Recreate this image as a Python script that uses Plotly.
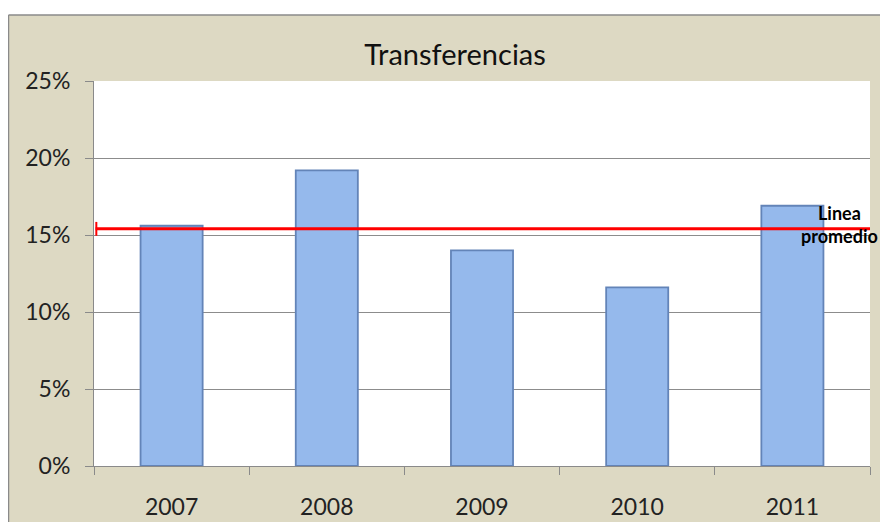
import plotly.graph_objects as go

years = ["2007", "2008", "2009", "2010", "2011"]
transferencias = [15.6, 19.2, 14.0, 11.6, 16.9]
promedio = 15.4
y_ticks = [0, 5, 10, 15, 20, 25]
y_labels = ["0%", "5%", "10%", "15%", "20%", "25%"]

# the page shows the figure with an 8px offset; positions below are figure coordinates
W, H = 888, 522
L, R, T, B = 86, 26, 73, 64
pw, ph = W - L - R, H - T - B

def px_x(p):
    return (p - L) / pw

def px_y(p):
    return (H - B - p) / ph

fig = go.Figure()
fig.add_trace(go.Bar(
    x=years, y=transferencias, width=0.4,
    marker=dict(color="#95b9ec", line=dict(color="#6384b8", width=1.8)),
    showlegend=False, hoverinfo="x+y",
))

beige = "#ddd9c3"
shapes = [
    dict(type="rect", xref="paper", yref="paper", x0=px_x(-5), x1=px_x(W + 5),
         y0=px_y(7), y1=px_y(-5), fillcolor="white", line_width=0, layer="above"),
    dict(type="line", xref="paper", yref="paper", x0=px_x(0.5), x1=px_x(W + 5),
         y0=px_y(7), y1=px_y(7), line=dict(color="#8a8a8a", width=1.5), layer="above"),
    dict(type="line", xref="paper", yref="paper", x0=px_x(0.5), x1=px_x(0.5),
         y0=px_y(7), y1=px_y(H + 5), line=dict(color="#8a8a8a", width=1.5), layer="above"),
    dict(type="line", xref="x domain", yref="y", x0=0.002, x1=1, y0=promedio, y1=promedio,
         line=dict(color="#ff0000", width=3), layer="above"),
    dict(type="line", xref="x domain", yref="y", x0=0.003, x1=0.003,
         y0=promedio - 0.45, y1=promedio + 0.45,
         line=dict(color="#ff0000", width=2), layer="above"),
]

fig.update_layout(
    width=W, height=H,
    margin=dict(l=L, r=R, t=T, b=B, autoexpand=False),
    paper_bgcolor=beige, plot_bgcolor="white",
    font=dict(family="Lato, Open Sans, sans-serif", color="#222222", size=23),
    title=dict(text="Transferencias", x=px_x(447), xref="paper", xanchor="center",
               y=1 - 47 / H, yanchor="middle",
               font=dict(size=29, color="#111111")),
    shapes=shapes,
    annotations=[dict(text="<b>Linea<br>promedio</b>", xref="paper", yref="paper",
                      x=px_x(831), y=px_y(216), xanchor="center", yanchor="middle",
                      showarrow=False, font=dict(size=18, color="#000000"),
                      align="center")],
)
fig.update_xaxes(
    type="category", showgrid=False, ticks="outside", tickson="boundaries",
    ticklen=8, tickcolor="#8a8a8a", showline=True, linecolor="#8a8a8a", linewidth=1,
    tickfont=dict(size=23), ticklabelstandoff=20, automargin=False,
)
fig.update_yaxes(
    range=[0, 25], tickvals=y_ticks, ticktext=y_labels, showgrid=True,
    gridcolor="#8c8c8c", gridwidth=1, ticks="outside", ticklen=8, tickcolor="#8a8a8a",
    showline=True, linecolor="#8a8a8a", linewidth=1, zeroline=False,
    tickfont=dict(size=23), ticklabelstandoff=10, automargin=False,
)

fig.write_html("out.html")
